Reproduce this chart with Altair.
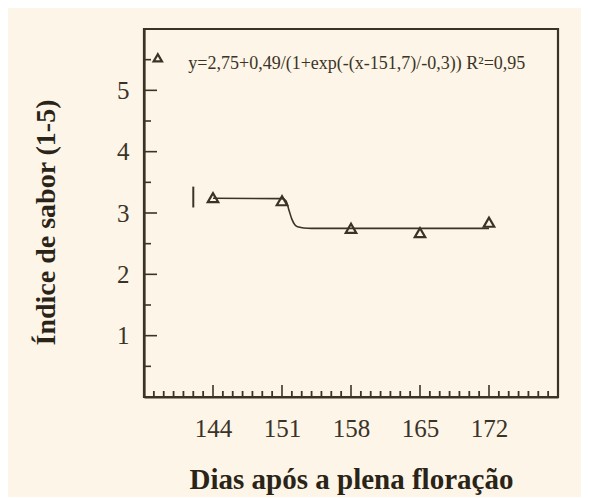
import altair as alt
import pandas as pd

# observed means
days = [144, 151, 158, 165, 172]
sabor = [3.25, 3.20, 2.75, 2.68, 2.85]

# fitted curve
curve_x = [144, 151.0, 151.4, 151.7, 152.0, 152.3, 152.7, 153.2, 154.0, 172]
curve_y = [3.24, 3.235, 3.20, 3.05, 2.90, 2.81, 2.77, 2.755, 2.75, 2.75]

# error bar
err_x = [142]
err_lo = [3.09]
err_hi = [3.43]

# legend annotation
leg_sym_x = [138.4]
leg_sym_y = [5.53]
leg_txt_x = [141.5]
leg_txt_y = [5.43]
leg_txt = ["y=2,75+0,49/(1+exp(-(x-151,7)/-0,3))  R²=0,95"]

x_major = [144, 151, 158, 165, 172]
x_minor = [v for v in range(138, 179) if v not in x_major]
y_major = [1, 2, 3, 4, 5]
y_minor = [0.5, 1.5, 2.5, 3.5, 4.5, 5.5]

DARK = "#3b3426"
BG = "#fdf5e7"
W, H = 414, 368
X0, X1 = 137, 179
Y0, Y1 = 0, 6

xs = alt.Scale(domain=[X0, X1], nice=False, zero=False)
ys = alt.Scale(domain=[Y0, Y1], nice=False)

pts = pd.DataFrame({"x": days, "y": sabor})
cur = pd.DataFrame({"x": curve_x, "y": curve_y})
err = pd.DataFrame({"x": err_x, "lo": err_lo, "hi": err_hi})
lsym = pd.DataFrame({"x": leg_sym_x, "y": leg_sym_y})
ltxt = pd.DataFrame({"x": leg_txt_x, "y": leg_txt_y, "t": leg_txt})

# tick lengths expressed in data units (pixels / pixels-per-unit)
px_x = (X1 - X0) / W
px_y = (Y1 - Y0) / H
xmaj_df = pd.DataFrame({"tx": x_major, "ta": [0.0] * len(x_major), "tb": [12 * px_y] * len(x_major)})
xmin_df = pd.DataFrame({"tx": x_minor, "ta": [0.0] * len(x_minor), "tb": [6 * px_y] * len(x_minor)})
ymaj_df = pd.DataFrame({"ty": y_major, "sa": [X0] * len(y_major), "sb": [X0 + 13 * px_x] * len(y_major)})
ymin_df = pd.DataFrame({"ty": y_minor, "sa": [X0] * len(y_minor), "sb": [X0 + 7 * px_x] * len(y_minor)})

base_x = alt.X("x:Q", scale=xs, title="Dias após a plena floração",
               axis=alt.Axis(values=x_major, format="d", ticks=False, grid=False, labelPadding=19,
                             titleX=207, titleY=82, titleBaseline="middle", titleFontSize=29))
base_y = alt.Y("y:Q", scale=ys, title="Índice de sabor (1-5)",
               axis=alt.Axis(values=y_major, format="d", ticks=False, grid=False, labelPadding=15,
                             titleX=-98, titleY=193, titleBaseline="middle", titleAlign="center",
                             titleFontSize=28))

line = alt.Chart(cur).mark_line(color=DARK, strokeWidth=1.6, interpolate="monotone").encode(x=base_x, y=base_y)
points = alt.Chart(pts).mark_point(shape="triangle-up", filled=False, color=DARK, strokeWidth=2.2,
                                   size=110, opacity=1).encode(x="x:Q", y="y:Q")
ebar = alt.Chart(err).mark_rule(color=DARK, strokeWidth=2).encode(x="x:Q", y="lo:Q", y2="hi:Q")
lpt = alt.Chart(lsym).mark_point(shape="triangle-up", filled=False, color=DARK, strokeWidth=2.2,
                                 size=70, opacity=1).encode(x="x:Q", y="y:Q")
ltx = alt.Chart(ltxt).mark_text(align="left", baseline="middle", font="Liberation Serif",
                                fontSize=18, color=DARK).encode(x="x:Q", y="y:Q", text="t:N")

xmaj = alt.Chart(xmaj_df).mark_rule(color=DARK, strokeWidth=1.6).encode(
    x=alt.X("tx:Q"), y=alt.Y("ta:Q"), y2="tb:Q")
xmin = alt.Chart(xmin_df).mark_rule(color=DARK, strokeWidth=1.8).encode(
    x=alt.X("tx:Q"), y=alt.Y("ta:Q"), y2="tb:Q")
ymaj = alt.Chart(ymaj_df).mark_rule(color=DARK, strokeWidth=1.6).encode(
    y=alt.Y("ty:Q"), x=alt.X("sa:Q"), x2="sb:Q")
ymin = alt.Chart(ymin_df).mark_rule(color=DARK, strokeWidth=1.6).encode(
    y=alt.Y("ty:Q"), x=alt.X("sa:Q"), x2="sb:Q")

chart = alt.layer(line, points, ebar, lpt, ltx, xmaj, xmin, ymaj, ymin).properties(
    width=W, height=H,
    autosize=alt.AutoSizeParams(type="none"),
    padding={"left": 136, "top": 21, "right": 23, "bottom": 100},
    background=BG,
).configure_view(stroke=DARK, strokeWidth=2.2).configure_axis(
    domainColor=DARK, domainWidth=2.2,
    labelFont="Liberation Serif", labelFontSize=25, labelColor="#3a3328",
    titleFont="Liberation Serif", titleFontWeight="bold", titleColor="#2a2418",
)

chart.save("out.html", embed_options={"renderer": "svg", "actions": False})
